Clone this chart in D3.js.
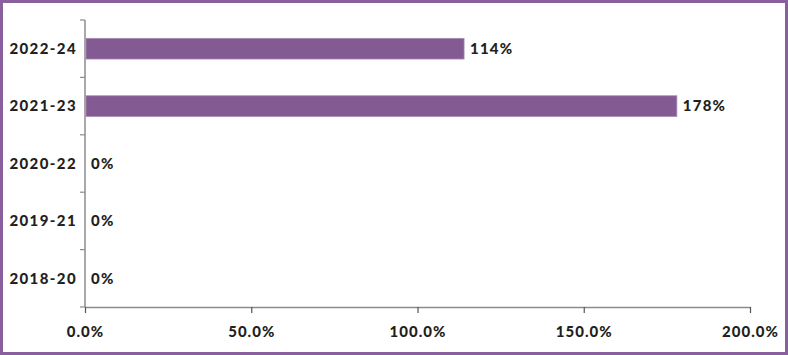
<!DOCTYPE html>
<html>
<head>
<meta charset="utf-8">
<script src="https://cdn.jsdelivr.net/npm/d3@7"></script>
<style>
  body { margin: 0; background: white; }
  svg text { font-family: "Lato", "Open Sans", sans-serif; font-weight: 900; fill: #231f20; }
</style>
</head>
<body>
<div id="chart"></div>
<script>
var categories = ["2022-24", "2021-23", "2020-22", "2019-21", "2018-20"];
var values = [114, 178, 0, 0, 0];
var tickValues = [0, 50, 100, 150, 200];

var width = 788, height = 355;
var margin = {top: 20, right: 38, bottom: 48, left: 85};

var svg = d3.select("#chart")
    .append("svg")
    .attr("width", width)
    .attr("height", height);

// frame
svg.append("rect")
    .attr("x", 1.5).attr("y", 1.5)
    .attr("width", width - 3).attr("height", height - 3)
    .attr("fill", "white")
    .attr("stroke", "#8a5f9e")
    .attr("stroke-width", 3);

var x = d3.scaleLinear()
    .domain([0, 200])
    .range([margin.left, width - margin.right]);

var y = d3.scaleBand()
    .domain(categories)
    .range([margin.top, height - margin.bottom])
    .paddingInner(0.64)
    .paddingOuter(0.32);

// x axis
var xAxis = svg.append("g")
    .attr("transform", "translate(0," + (height - margin.bottom) + ")")
    .call(d3.axisBottom(x).tickValues(tickValues).tickSize(6).tickSizeOuter(0)
        .tickFormat(function(d) { return d.toFixed(1) + "%"; }));
xAxis.select(".domain").attr("stroke", "#8c8c8c").attr("stroke-width", 1.5);
xAxis.selectAll(".tick line").attr("stroke", "#555").attr("stroke-width", 1.2);
xAxis.selectAll(".tick text")
    .attr("y", 19)
    .attr("dy", "0.71em")
    .style("font-size", "15px")
    .style("letter-spacing", "1px");

// y axis boundaries
var boundaries = d3.range(categories.length + 1).map(function(i) {
    return margin.top + i * (height - margin.bottom - margin.top) / categories.length;
});
svg.append("line")
    .attr("x1", x(0)).attr("x2", x(0))
    .attr("y1", margin.top).attr("y2", height - margin.bottom)
    .attr("stroke", "#8c8c8c").attr("stroke-width", 1.5);
svg.selectAll(".ytick")
    .data(boundaries)
    .enter().append("line")
    .attr("x1", x(0) - 5).attr("x2", x(0))
    .attr("y1", function(d) { return d; })
    .attr("y2", function(d) { return d; })
    .attr("stroke", "#8c8c8c").attr("stroke-width", 1.2);

// category labels
svg.selectAll(".ylabel")
    .data(categories)
    .enter().append("text")
    .attr("x", x(0) - 8)
    .attr("y", function(d) { return y(d) + y.bandwidth() / 2; })
    .attr("dy", "0.35em")
    .attr("text-anchor", "end")
    .style("font-size", "15px")
    .style("letter-spacing", "1.4px")
    .text(function(d) { return d; });

// bars
svg.selectAll(".bar")
    .data(values)
    .enter().append("rect")
    .attr("x", x(0) + 1)
    .attr("y", function(d, i) { return y(categories[i]); })
    .attr("width", function(d) { return Math.max(0, x(d) - x(0) - 1); })
    .attr("height", y.bandwidth())
    .attr("fill", "#845a93")
    .attr("stroke", "#a58bb1")
    .attr("stroke-width", d => d > 0 ? 0.8 : 0);

// value labels
svg.selectAll(".vlabel")
    .data(values)
    .enter().append("text")
    .attr("x", function(d) { return x(d) + 6; })
    .attr("y", function(d, i) { return y(categories[i]) + y.bandwidth() / 2; })
    .attr("dy", "0.35em")
    .style("font-size", "15px")
    .style("letter-spacing", "1.2px")
    .text(function(d) { return d + "%"; });
</script>
</body>
</html>
